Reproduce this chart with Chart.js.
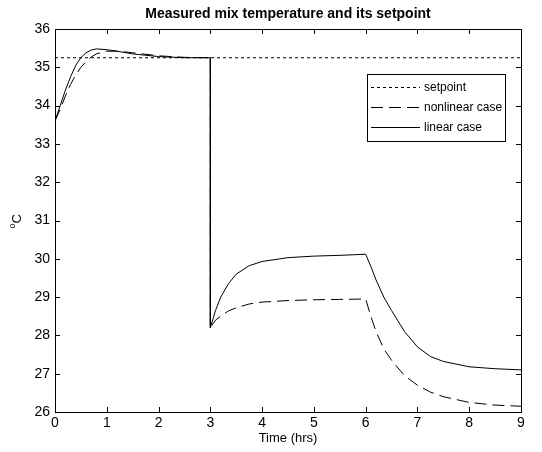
<!DOCTYPE html>
<html>
<head>
<meta charset="utf-8">
<script src="https://cdn.jsdelivr.net/npm/chart.js@4/dist/chart.umd.min.js"></script>
<style>
  html, body { margin: 0; padding: 0; background: #fff; }
  #wrap { width: 542px; height: 452px; }
</style>
</head>
<body>
<div id="wrap"><canvas id="mixChart" width="542" height="452"></canvas></div>
<script>
// Time axis shared by both simulated cases (hrs); 3 appears twice for the step
const timeHrs = [0, 0.1, 0.2, 0.3, 0.4, 0.5, 0.6, 0.7, 0.8, 1.0, 1.2, 1.5, 2.0, 2.5,
    3, 3, 3.1, 3.2, 3.35, 3.5, 3.75, 4.0, 4.5, 5.0, 5.5, 6.0,
    6.1, 6.2, 6.35, 6.5, 6.75, 7.0, 7.25, 7.5, 8.0, 8.5, 9.0];

const linearCase = [33.6, 34.0, 34.4, 34.75, 35.05, 35.25, 35.38, 35.45, 35.48, 35.46, 35.42, 35.35, 35.28, 35.25,
    35.25, 28.2, 28.65, 29.0, 29.35, 29.6, 29.82, 29.93, 30.03, 30.07, 30.09, 30.12,
    29.8, 29.45, 29.0, 28.65, 28.1, 27.7, 27.45, 27.32, 27.18, 27.13, 27.1];

const nonlinearCase = [33.6, 33.9, 34.25, 34.55, 34.8, 35.0, 35.15, 35.27, 35.35, 35.42, 35.42, 35.38, 35.3, 35.26,
    35.25, 28.2, 28.4, 28.5, 28.64, 28.72, 28.82, 28.87, 28.91, 28.93, 28.94, 28.95,
    28.5, 28.1, 27.65, 27.35, 26.95, 26.7, 26.52, 26.4, 26.25, 26.18, 26.15];

const setpointTime = [0, 9];
const setpointValue = [35.25, 35.25];

const xTicks = [0, 1, 2, 3, 4, 5, 6, 7, 8, 9];
const yTicks = [26, 27, 28, 29, 30, 31, 32, 33, 34, 35, 36];

const FONT = '"Liberation Sans", Arial, Helvetica, sans-serif';

function toPoints(xs, ys) {
    return xs.map((x, i) => ({ x: x, y: ys[i] }));
}

// Box, inward ticks, titles and legend in the MATLAB style
const matlabFrame = {
    id: 'matlabFrame',
    afterDraw(chart) {
        const ctx = chart.ctx;
        const area = chart.chartArea;
        const xs = chart.scales.x;
        const ys = chart.scales.y;
        const tick = 5;

        ctx.save();
        ctx.strokeStyle = '#000';
        ctx.lineWidth = 1;
        ctx.setLineDash([]);
        ctx.strokeRect(Math.round(area.left) + 0.5, Math.round(area.top) + 0.5,
            Math.round(area.right - area.left), Math.round(area.bottom - area.top));

        ctx.beginPath();
        xTicks.forEach(v => {
            const px = Math.round(xs.getPixelForValue(v)) + 0.5;
            ctx.moveTo(px, area.bottom);
            ctx.lineTo(px, area.bottom - tick);
            ctx.moveTo(px, area.top);
            ctx.lineTo(px, area.top + tick);
        });
        yTicks.forEach(v => {
            const py = Math.round(ys.getPixelForValue(v)) + 0.5;
            ctx.moveTo(area.left, py);
            ctx.lineTo(area.left + tick, py);
            ctx.moveTo(area.right, py);
            ctx.lineTo(area.right - tick, py);
        });
        ctx.stroke();

        const midX = (area.left + area.right) / 2;
        const midY = (area.top + area.bottom) / 2;

        // title
        ctx.fillStyle = '#000';
        ctx.font = 'bold 14px ' + FONT;
        ctx.textAlign = 'center';
        ctx.textBaseline = 'middle';
        ctx.fillText('Measured mix temperature and its setpoint', midX, 14);

        // x axis title
        ctx.font = '13px ' + FONT;
        ctx.fillText('Time (hrs)', midX, 438);

        // y axis title: superscript o then C, rotated
        ctx.save();
        ctx.translate(17, midY);
        ctx.rotate(-Math.PI / 2);
        ctx.textAlign = 'left';
        ctx.font = '9px ' + FONT;
        ctx.fillText('o', -8, -4);
        ctx.font = '13px ' + FONT;
        ctx.fillText('C', -3, 0);
        ctx.restore();

        // legend box
        const lx = 367, ly = 74, lw = 138, lh = 67;
        ctx.fillStyle = '#fff';
        ctx.fillRect(lx, ly, lw, lh);
        ctx.strokeRect(lx + 0.5, ly + 0.5, lw, lh);
        const order = [2, 1, 0];
        ctx.font = '12px ' + FONT;
        ctx.textAlign = 'left';
        order.forEach((di, i) => {
            const ds = chart.data.datasets[di];
            const y = ly + 13 + i * 20 + 0.5;
            ctx.beginPath();
            ctx.setLineDash(ds.borderDash || []);
            ctx.moveTo(lx + 4, y);
            ctx.lineTo(lx + 53, y);
            ctx.stroke();
            ctx.setLineDash([]);
            ctx.fillStyle = '#000';
            ctx.fillText(ds.label, lx + 57, y);
        });
        ctx.restore();
    }
};

const ctx = document.getElementById('mixChart').getContext('2d');
new Chart(ctx, {
    type: 'line',
    data: {
        datasets: [
            {
                label: 'linear case',
                data: toPoints(timeHrs, linearCase),
                borderColor: '#000',
                borderWidth: 1,
                pointRadius: 0,
                tension: 0,
                order: 0
            },
            {
                label: 'nonlinear case',
                data: toPoints(timeHrs, nonlinearCase),
                borderColor: '#000',
                borderWidth: 1,
                borderDash: [12, 6],
                pointRadius: 0,
                tension: 0,
                order: 1
            },
            {
                label: 'setpoint',
                data: toPoints(setpointTime, setpointValue),
                borderColor: '#000',
                borderWidth: 1,
                borderDash: [3, 3],
                pointRadius: 0,
                tension: 0,
                order: 2
            }
        ]
    },
    options: {
        responsive: false,
        animation: false,
        layout: { padding: { top: 29, right: 21, left: 0, bottom: 0 } },
        plugins: {
            legend: { display: false },
            tooltip: { enabled: false }
        },
        scales: {
            x: {
                type: 'linear',
                min: 0,
                max: 9,
                afterFit(scale) { scale.height = 40; },
                afterBuildTicks(scale) { scale.ticks = xTicks.map(v => ({ value: v })); },
                grid: { display: false, drawTicks: false },
                border: { display: false },
                ticks: { color: '#000', padding: 3, font: { family: FONT, size: 14 } }
            },
            y: {
                min: 26,
                max: 36,
                afterFit(scale) { scale.width = 55; },
                afterBuildTicks(scale) { scale.ticks = yTicks.map(v => ({ value: v })); },
                grid: { display: false, drawTicks: false },
                border: { display: false },
                ticks: { color: '#000', padding: 5, font: { family: FONT, size: 14 } }
            }
        }
    },
    plugins: [matlabFrame]
});
</script>
</body>
</html>
